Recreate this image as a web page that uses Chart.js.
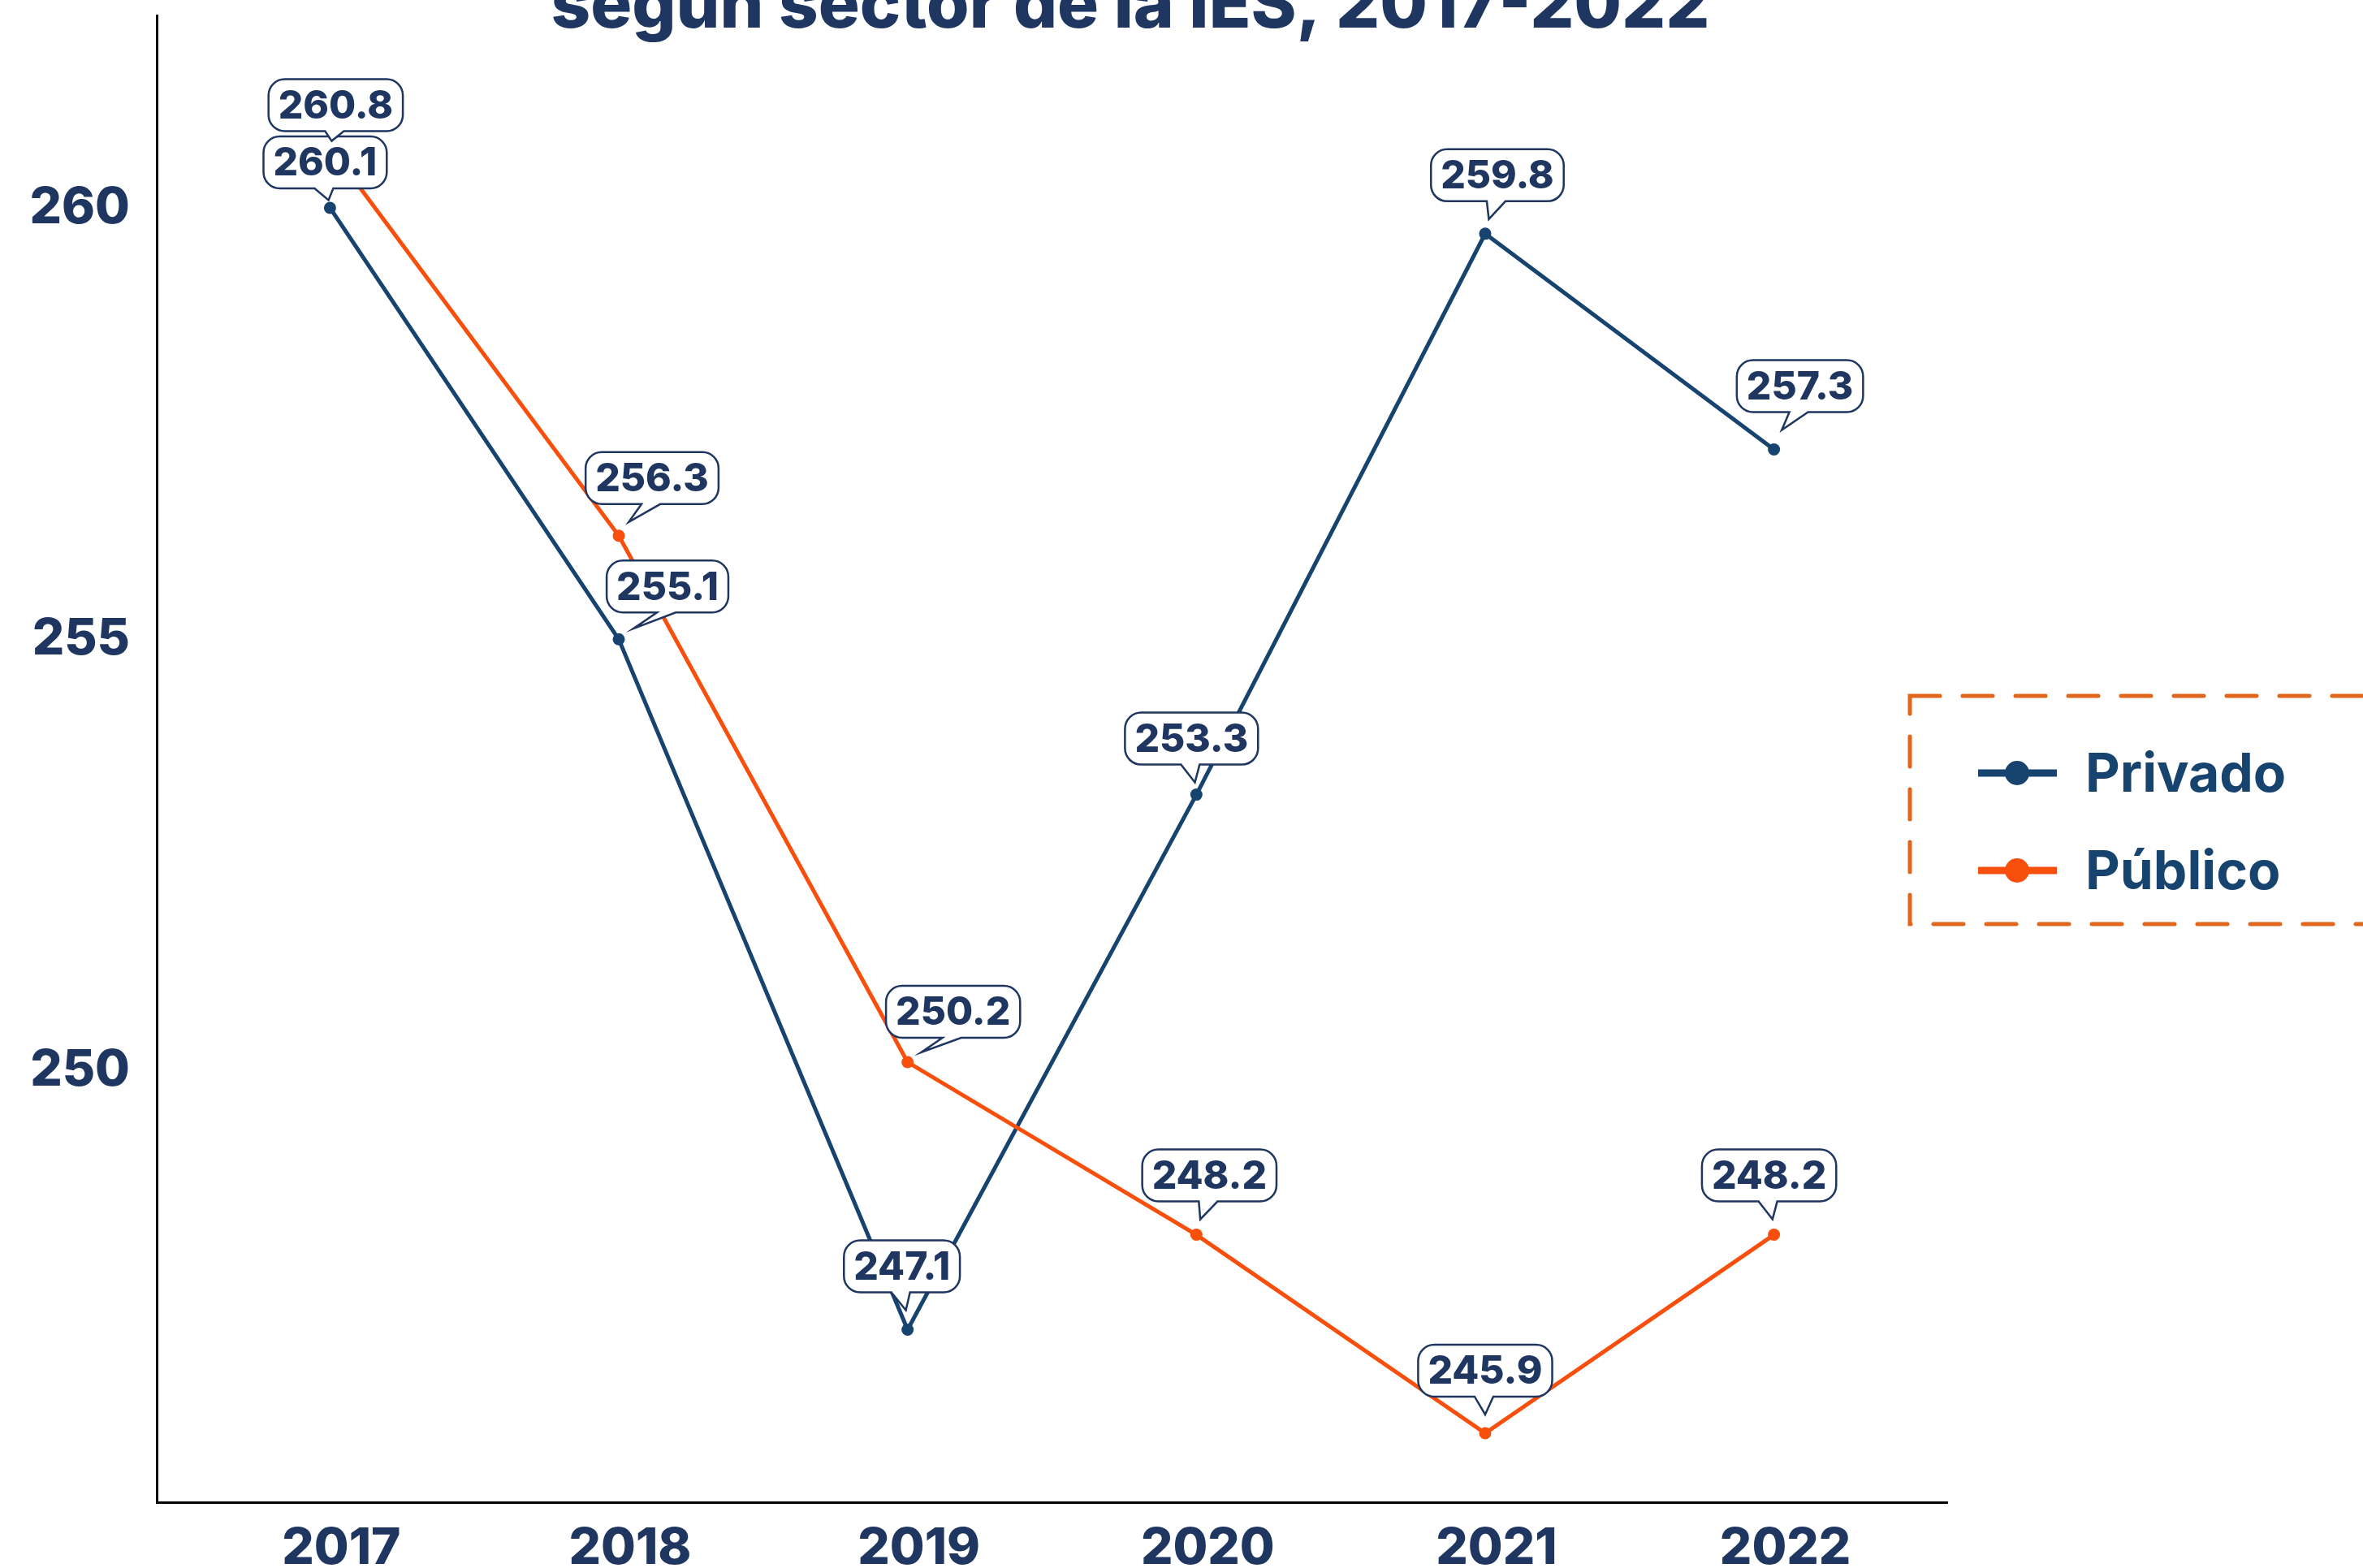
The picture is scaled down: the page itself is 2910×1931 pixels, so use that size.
<!DOCTYPE html>
<html lang="es">
<head>
<meta charset="utf-8">
<title>Puntaje promedio según sector de la IES, 2017-2022</title>
<script src="https://cdn.jsdelivr.net/npm/chart.js@4.4.1/dist/chart.umd.min.js"></script>
<style>
  html, body { margin: 0; padding: 0; background: #fff; overflow: hidden; }
  canvas { display: block; }
</style>
</head>
<body>
<canvas id="chart" width="2910" height="1931"></canvas>
<script>
// Datos del gráfico
const years = [2017, 2018, 2019, 2020, 2021, 2022];
const privado = [260.1, 255.1, 247.1, 253.3, 259.8, 257.3];
const publico = [260.8, 256.3, 250.2, 248.2, 245.9, 248.2];
const yTicks = [250, 255, 260];
const titleText = 'según sector de la IES, 2017-2022';

// En el original las marcas del eje Y quedan 0.1 por encima del número mostrado
const yTickShift = 0.1;

const NAVY = '#1e3660';
const BLUE = '#17436f';
const ORANGE = '#f84f0c';
const DASH = '#e0661c';
const FONT = 'Inter';

// Desplazamiento de cada etiqueta [dx, separación sobre el punto]
const labelPlace = {
  'Privado': [[-6, 24], [60, 33], [-7, 46], [-6, 37], [15, 40], [32, 46]],
  'Público': [[7, 20], [41, 39], [56, 30], [16, 41], [0, 45], [-6, 41]],
};

// Etiquetas tipo "globo" sobre cada punto
const calloutPlugin = {
  id: 'callouts',
  afterDatasetsDraw(chart) {
    const ctx = chart.ctx;
    ctx.save();
    ctx.font = `800 48px ${FONT}`;
    ctx.textAlign = 'center';
    ctx.textBaseline = 'middle';
    chart.data.datasets.forEach((ds, i) => {
      const meta = chart.getDatasetMeta(i);
      const place = labelPlace[ds.label];
      meta.data.forEach((pt, j) => {
        const text = ds.data[j].y.toFixed(1);
        const [dx, gap] = place[j];
        const w = ctx.measureText(text).width + 24;
        const h = 64;
        const r = 20;
        const cx = pt.x + dx;
        const bottom = pt.y - gap;
        const top = bottom - h;
        const left = cx - w / 2;
        const right = cx + w / 2;
        const tipX = pt.x + dx * 0.3;
        const tipY = bottom + Math.min(22, gap * 0.6);

        ctx.beginPath();
        ctx.moveTo(left + r, top);
        ctx.arcTo(right, top, right, bottom, r);
        ctx.arcTo(right, bottom, left, bottom, r);
        ctx.lineTo(cx + 10, bottom);
        ctx.lineTo(tipX, tipY);
        ctx.lineTo(cx - 13, bottom);
        ctx.arcTo(left, bottom, left, top, r);
        ctx.arcTo(left, top, right, top, r);
        ctx.closePath();
        ctx.fillStyle = '#fff';
        ctx.fill();
        ctx.lineWidth = 2.5;
        ctx.strokeStyle = NAVY;
        ctx.stroke();

        ctx.fillStyle = NAVY;
        ctx.fillText(text, cx, (top + bottom) / 2 + 2);
      });
    });
    ctx.restore();
  },
};

// Título (recortado en la parte superior, como en el original)
const titlePlugin = {
  id: 'cutTitle',
  afterDraw(chart) {
    const ctx = chart.ctx;
    ctx.save();
    ctx.font = `800 100px ${FONT}`;
    const size = 100 * 1427 / ctx.measureText(titleText).width;
    ctx.font = `800 ${size}px ${FONT}`;
    ctx.fillStyle = NAVY;
    ctx.textAlign = 'center';
    ctx.textBaseline = 'alphabetic';
    ctx.fillText(titleText, 1392, 34);
    ctx.restore();
  },
};

// Leyenda con borde discontinuo
const legendPlugin = {
  id: 'dashLegend',
  afterDraw(chart) {
    const ctx = chart.ctx;
    ctx.save();
    ctx.strokeStyle = DASH;
    ctx.lineWidth = 5;
    ctx.lineCap = 'round';
    ctx.setLineDash([37, 28]);
    ctx.strokeRect(2352, 857, 640, 281);
    ctx.setLineDash([]);
    ctx.lineCap = 'butt';
    chart.data.datasets.forEach((ds, i) => {
      const y = 952 + i * 120;
      ctx.strokeStyle = ds.borderColor;
      ctx.lineWidth = 9;
      ctx.beginPath();
      ctx.moveTo(2436, y);
      ctx.lineTo(2533, y);
      ctx.stroke();
      ctx.fillStyle = ds.borderColor;
      ctx.beginPath();
      ctx.arc(2484, y, 15, 0, Math.PI * 2);
      ctx.fill();
      ctx.fillStyle = BLUE;
      ctx.font = `700 66px ${FONT}`;
      ctx.textAlign = 'left';
      ctx.textBaseline = 'alphabetic';
      ctx.fillText(ds.label, 2568, y + 23);
    });
    ctx.restore();
  },
};

const tickFont = { family: FONT, size: 62, weight: '800' };

// Sin relleno extra de las etiquetas: el área del gráfico queda donde en el original
function noPadding(scale) {
  scale.paddingTop = 0;
  scale.paddingBottom = 0;
  scale.paddingLeft = 0;
  scale.paddingRight = 0;
}

new Chart(document.getElementById('chart'), {
  type: 'line',
  data: {
    datasets: [
      {
        label: 'Privado',
        data: years.map((x, i) => ({ x, y: privado[i] })),
        borderColor: BLUE,
        backgroundColor: BLUE,
        pointBackgroundColor: BLUE,
        borderWidth: 5,
        pointRadius: 7.5,
        pointBorderWidth: 0,
        tension: 0,
        order: 1,
      },
      {
        label: 'Público',
        data: years.map((x, i) => ({ x, y: publico[i] })),
        borderColor: ORANGE,
        backgroundColor: ORANGE,
        pointBackgroundColor: ORANGE,
        borderWidth: 5,
        pointRadius: 7.5,
        pointBorderWidth: 0,
        tension: 0,
        order: 0,
      },
    ],
  },
  options: {
    responsive: false,
    animation: false,
    layout: { padding: { top: 19, right: 512, left: 0, bottom: 0 } },
    plugins: {
      legend: { display: false },
      tooltip: { enabled: false },
      title: { display: false },
    },
    scales: {
      x: {
        type: 'linear',
        min: 2016.4,
        max: 2022.6,
        grid: { display: false },
        border: { display: true, color: '#000', width: 3 },
        afterBuildTicks: (scale) => {
          scale.ticks = years.map((v) => ({ value: v }));
        },
        afterFit: (scale) => {
          scale.height = 81;
          noPadding(scale);
        },
        ticks: {
          color: NAVY,
          font: tickFont,
          padding: 12,
          labelOffset: 14,
          maxRotation: 0,
          autoSkip: false,
          callback: (v) => String(v),
        },
      },
      y: {
        min: 245.1,
        max: 262.33,
        grid: { display: false },
        border: { display: true, color: '#000', width: 3 },
        afterBuildTicks: (scale) => {
          scale.ticks = yTicks.map((v) => ({ value: v + yTickShift }));
        },
        afterFit: (scale) => {
          scale.width = 193;
          noPadding(scale);
        },
        ticks: {
          color: NAVY,
          font: tickFont,
          padding: 25,
          callback: (v) => String(Math.round(v)),
        },
      },
    },
  },
  plugins: [calloutPlugin, titlePlugin, legendPlugin],
});
</script>
</body>
</html>
